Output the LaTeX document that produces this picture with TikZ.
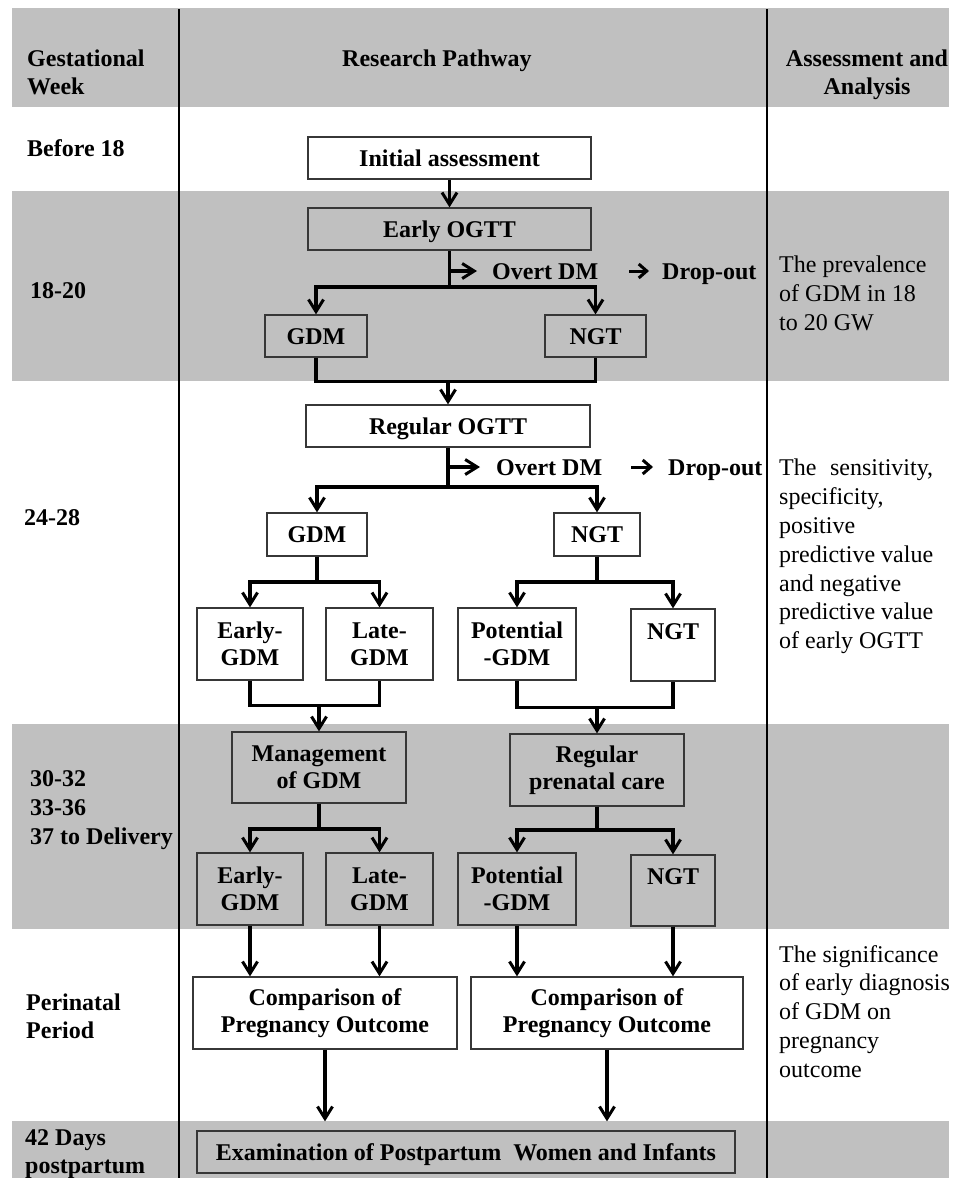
\documentclass[tikz,border=0pt]{standalone}
\usepackage{fontspec}
\setmainfont{Liberation Serif}
\usetikzlibrary{arrows.meta,calc}
\definecolor{band}{RGB}{192,192,192}
\definecolor{edge}{RGB}{55,55,55}
\begin{document}
\begin{tikzpicture}[x=1pt,y=-1pt,
  txt/.style={font=\fontsize{24}{28}\selectfont\bfseries, inner sep=0pt},
  sl/.style={text height=16pt, text depth=0pt},
  plain/.style={font=\fontsize{24}{28.8}\selectfont, inner sep=0pt, align=left, anchor=north west},
  box/.style={draw=edge, line width=1.3pt, fill=white, font=\fontsize{24}{27}\selectfont\bfseries, align=center, inner sep=0pt},
  gbox/.style={box, fill=band},
  sz/.style 2 args={minimum width=#1pt, minimum height=#2pt},
  conn/.style={line width=3.3pt, line join=miter},
  arr/.style={conn, -{Straight Barb[length=12pt,width=15pt,line width=3pt]}},
  arrsm/.style={line width=3pt, -{Straight Barb[length=8pt,width=14pt,line width=3pt]}},
  divider/.style={line width=2.8pt},
]
\useasboundingbox (0,0) rectangle (961,1178);
% bands
\fill[band] (12,8) rectangle (949,107);
\fill[band] (12,191) rectangle (949,381);
\fill[band] (12,724) rectangle (949,929);
\fill[band] (12,1121) rectangle (949,1178);
% dividers
\coordinate (d1t) at (179,9); \coordinate (d1b) at (179,1178);
\coordinate (d2t) at (767,9); \coordinate (d2b) at (767,1178);
\draw[divider] (d1t) -- (d1b);
\draw[divider] (d2t) -- (d2b);

% headers
\node[txt, anchor=north west, align=left] (hw) at (27,50) {Gestational\\Week};
\node[txt, anchor=north] (hr) at (437,50) {Research Pathway};
\node[txt, anchor=north, align=center] (ha) at (867,50) {Assessment and\\Analysis};

% left column
\node[txt, anchor=north west] (wb) at (27,139) {Before 18};
\node[txt, anchor=north west] (w1) at (30,282) {18-20};
\node[txt, anchor=north west] (w2) at (24,509) {24-28};
\node[txt, anchor=north west, align=left, font=\fontsize{24}{29}\selectfont\bfseries] (w3) at (30,770) {30-32\\33-36\\37 to Delivery};
\node[txt, anchor=north west, align=left, font=\fontsize{24}{27.5}\selectfont\bfseries] (w4) at (26,994) {Perinatal\\Period};
\node[txt, anchor=north west, align=left] (w5) at (25,1129) {42 Days\\postpartum};

% right column
\node[plain] (r1) at (779,256) {The prevalence\\of GDM in 18\\to 20 GW};
\node[plain] (r2) at (779,459) {\makebox[154pt][s]{The sensitivity,}\\specificity,\\positive\\predictive value\\and negative\\predictive value\\of early OGTT};
\node[plain] (r3) at (779,945) {The significance\\of early diagnosis\\of GDM on\\pregnancy\\outcome};

% boxes
\node[box, sl, sz={283}{42}] (init) at (449.5,158) {Initial assessment};
\node[gbox, sl, sz={283}{42}] (eogtt) at (449.5,229) {Early OGTT};
\node[gbox, sl, sz={102}{42}] (gdm1) at (316,336) {GDM};
\node[gbox, sl, sz={101}{42}] (ngt1) at (595.5,336) {NGT};
\node[box, sl, sz={284}{42}] (rogtt) at (448,426) {Regular OGTT};
\node[box, sl, sz={100}{43}] (gdm2) at (317,534.5) {GDM};
\node[box, sl, sz={86}{43}] (ngt2) at (597,534.5) {NGT};
\node[box, sz={106}{72}] (eg2) at (250,644) {Early-\\GDM};
\node[box, sz={107}{72}] (lg2) at (379.5,644) {Late-\\GDM};
\node[box, sz={118}{72}] (pg2) at (517,644) {Potential\\-GDM};
\node[box, sz={84}{72}] (ng2) at (673,645) {NGT\\\phantom{GDM}};
\node[gbox, sz={174}{71}] (mgmt) at (319,767.5) {Management\\of GDM};
\node[gbox, sz={174}{72}] (rpc) at (597,770) {Regular\\prenatal care};
\node[gbox, sz={106}{72}] (eg3) at (250,889) {Early-\\GDM};
\node[gbox, sz={107}{72}] (lg3) at (379.5,889) {Late-\\GDM};
\node[gbox, sz={118}{72}] (pg3) at (517,889) {Potential\\-GDM};
\node[gbox, sz={84}{71}] (ng3) at (673,890.5) {NGT\\\phantom{GDM}};
\node[box, sz={264}{72}] (cmp1) at (325,1013) {Comparison of\\Pregnancy Outcome};
\node[box, sz={272}{72}] (cmp2) at (607,1013) {Comparison of\\Pregnancy Outcome};
\node[gbox, sl, sz={538}{42}] (exam) at (466,1152) {Examination of Postpartum\ \ Women and Infants};

% overt / drop-out texts
\node[txt, sl, anchor=west] (overt1) at (492,271) {Overt DM};
\node[txt, sl, anchor=west] (drop1) at (662,271) {Drop-out};
\node[txt, sl, anchor=west] (overt2) at (496,467) {Overt DM};
\node[txt, sl, anchor=west] (drop2) at (668,467) {Drop-out};

% junction coordinates
\coordinate (o1) at (449.5,271);
\coordinate (j1) at (449.5,287);
\coordinate (m0) at (448,381);
\coordinate (o2) at (448,467);
\coordinate (j2) at (448,487);
\coordinate (j3) at (317,582);
\coordinate (j4) at (597,582);
\coordinate (m1) at (319,705);
\coordinate (m2) at (597,707);
\coordinate (j5) at (319,829);
\coordinate (j6) at (597,830);

% connectors
\draw[arr] (init) -- (eogtt);
\draw[conn] (eogtt.south) -- (j1);
\draw[arr] (j1) -| (gdm1.north);
\draw[arr] (j1) -| (ngt1.north);
\draw[arr, shorten >=15pt] (o1) -- (overt1.west);
\draw[arrsm, shorten <=31pt, shorten >=13pt] (overt1.east) -- (drop1.west);

\draw[conn] (gdm1.south) -- ++(0,24) -| (ngt1.south);
\draw[arr] (m0) -- (rogtt.north);

\draw[conn] (rogtt.south) -- (j2);
\draw[arr] (j2) -| (gdm2.north);
\draw[arr] (j2) -| (ngt2.north);
\draw[arr, shorten >=16pt] (o2) -- (overt2.west);
\draw[arrsm, shorten <=29pt, shorten >=15pt] (overt2.east) -- (drop2.west);

\draw[conn] (gdm2.south) -- (j3);
\draw[arr] (j3) -| (eg2.north);
\draw[arr] (j3) -| (lg2.north);
\draw[conn] (ngt2.south) -- (j4);
\draw[arr] (j4) -| (pg2.north);
\draw[arr] (j4) -| (ng2.north);

\draw[conn] (eg2.south) -- ++(0,25) -| (lg2.south);
\draw[arr] (m1) -- (mgmt.north);
\draw[conn] (pg2.south) -- ++(0,27) -| (ng2.south);
\draw[arr] (m2) -- (rpc.north);

\draw[conn] (mgmt.south) -- (j5);
\draw[arr] (j5) -| (eg3.north);
\draw[arr] (j5) -| (lg3.north);
\draw[conn] (rpc.south) -- (j6);
\draw[arr] (j6) -| (pg3.north);
\draw[arr] (j6) -| (ng3.north);

\draw[arr] (eg3.south) -- (eg3.south |- cmp1.north);
\draw[arr] (lg3.south) -- (lg3.south |- cmp1.north);
\draw[arr] (pg3.south) -- (pg3.south |- cmp2.north);
\draw[arr] (ng3.south) -- (ng3.south |- cmp2.north);

\draw[arr, shorten >=9pt] (cmp1.south) -- (cmp1.south |- exam.north);
\draw[arr, shorten >=9pt] (cmp2.south) -- (cmp2.south |- exam.north);
\end{tikzpicture}
\end{document}
